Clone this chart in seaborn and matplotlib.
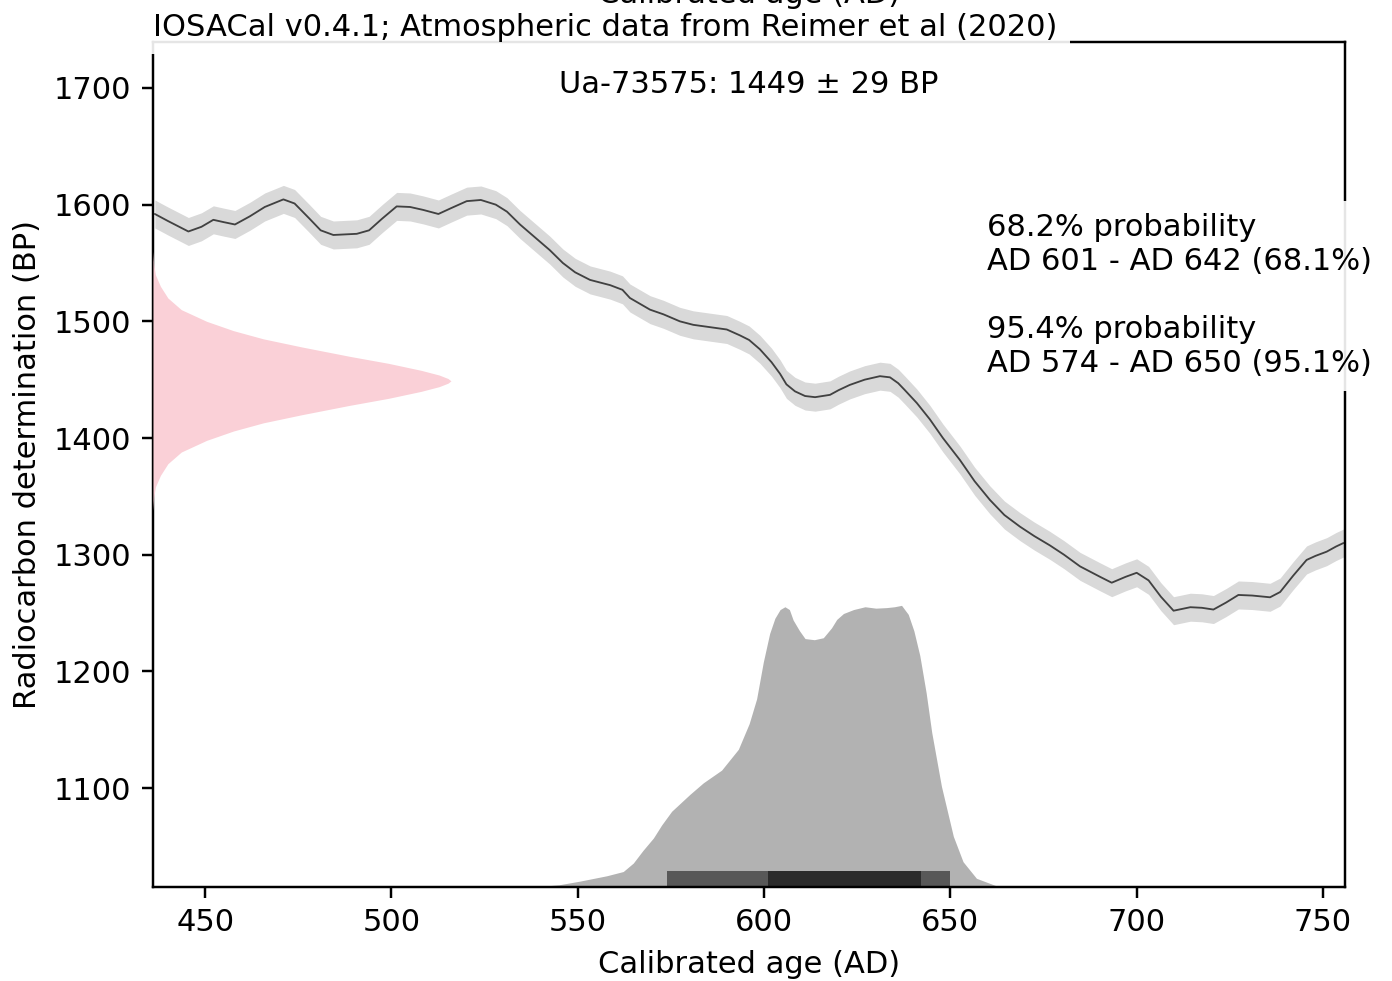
import numpy as np
import pandas as pd
import seaborn as sns
import matplotlib.pyplot as plt

# calibration curve (IntCal20 segment)
curve_year = [436.5, 440, 445.5, 449, 452.2, 455, 458, 462, 466, 471, 474, 478, 481, 484.4,
              490.7, 494, 497.5, 501.4, 505, 508.5, 512.6, 516, 520.2, 524, 528, 531, 534.5,
              538.5, 542.5, 546, 549.3, 553.3, 558.7, 562, 564, 569.4, 573, 577.4, 581, 585.5,
              590, 593.5, 596, 598.9, 602, 604.3, 606, 608.3, 611, 613.7, 617.7, 620, 623, 627,
              631.1, 633.8, 636, 637.8, 641, 644.5, 648, 652.6, 656.5, 660.6, 664.5, 668.7,
              672.5, 676.7, 680.5, 684.8, 690.2, 693.3, 697, 700, 703.2, 706.5, 709.9, 714.4,
              717.5, 720.6, 724, 727.3, 731, 735.8, 738.5, 742, 745.6, 748, 751, 753.5, 755.5]
curve_bp = [1592, 1586, 1577, 1581, 1587, 1585, 1583, 1590, 1598, 1604.5, 1601, 1588, 1578, 1574,
            1575, 1578, 1588, 1598.5, 1598, 1595.5, 1592, 1597, 1603, 1604, 1600, 1594, 1583,
            1572, 1561, 1550, 1542, 1535.5, 1531, 1527, 1520, 1510, 1506, 1500, 1497, 1495,
            1493, 1488, 1484, 1476, 1465, 1455, 1446, 1440, 1436, 1435, 1437, 1441, 1445.5, 1450,
            1453, 1452, 1447, 1441, 1430, 1416, 1400, 1381, 1363, 1347, 1334, 1324,
            1316, 1308, 1300, 1290, 1281, 1276, 1281, 1284.5, 1278, 1264, 1252, 1255,
            1254.5, 1253, 1259, 1265.5, 1265, 1263.5, 1268, 1282, 1295.5, 1299, 1302.6, 1307, 1310]
curve_err = 12

# calibrated age probability (relative to its peak)
cal_year = [538, 545, 550.6, 557.8, 562.2, 564.9, 567.5, 570.3, 572.5, 575.2, 580.1, 583.7, 588.6,
            593.1, 596, 598.0, 599.8, 601.5, 602.9, 604.3, 605.6, 606.8, 607.8, 609.5, 611.0,
            613.5, 615.9, 618.1, 619.5, 621.3, 624, 627.1, 630, 632.9, 635, 636.9, 638.7, 640.2,
            641.8, 643.5, 645.0, 647.6, 650.8, 653.4, 657.0, 662.4, 666]
cal_prob = [0, 0.008, 0.021, 0.040, 0.055, 0.085, 0.13, 0.174, 0.22, 0.269, 0.329, 0.370, 0.415,
            0.489, 0.58, 0.668, 0.799, 0.90, 0.954, 0.985, 0.995, 0.985, 0.948, 0.91, 0.882,
            0.878, 0.885, 0.920, 0.95, 0.971, 0.985, 0.995, 0.99, 0.992, 0.995, 1.0, 0.968, 0.91,
            0.822, 0.69, 0.549, 0.358, 0.180, 0.090, 0.031, 0.004, 0]

# radiocarbon determination (relative width of the pink shape)
sample_bp = [1560, 1550, 1540, 1530, 1520, 1510, 1500, 1492, 1485, 1478, 1470, 1464, 1458,
             1454, 1451, 1449, 1447, 1444, 1440, 1434, 1428, 1420, 1413, 1406, 1398, 1388,
             1378, 1368, 1358, 1348, 1338]
sample_w = [0.0, 0.002, 0.008, 0.025, 0.05, 0.095, 0.18, 0.27, 0.37, 0.50, 0.66, 0.79, 0.9,
            0.96, 0.99, 1.0, 0.99, 0.96, 0.9, 0.79, 0.66, 0.50, 0.37, 0.27, 0.18, 0.095,
            0.05, 0.025, 0.008, 0.002, 0.0]

ranges_95 = [(574, 650)]
ranges_68 = [(601, 642)]

label = "Ua-73575: 1449 ± 29 BP"
interval_text = ("68.2% probability\nAD 601 - AD 642 (68.1%)\n\n"
                 "95.4% probability\nAD 574 - AD 650 (95.1%)")
title = "IOSACal v0.4.1; Atmospheric data from Reimer et al (2020)"

sns.set_style("ticks", rc={"axes.edgecolor": "black", "xtick.color": "black",
                           "ytick.color": "black", "text.color": "black",
                           "axes.labelcolor": "black"})
plt.rcParams["font.family"] = ["DejaVu Sans"]
plt.rcParams["font.size"] = 10

fig = plt.figure(figsize=(1392 / 220, 981 / 220), dpi=220)
ax1 = fig.add_axes([0.1099, 0.0958, 0.8563, 0.8614])

# calibration curve
cc = pd.DataFrame({"year": curve_year, "bp": curve_bp})
ax1.fill_between(cc["year"], cc["bp"] + curve_err, cc["bp"] - curve_err,
                 color="k", alpha=0.15, lw=0)
sns.lineplot(data=cc, x="year", y="bp", ax=ax1, color="k", alpha=0.7, lw=0.6)
ax1.set_xlim(436, 755.9)
ax1.set_ylim(1015.2, 1739.4)
ax1.set_xlabel("Calibrated age (AD)")
ax1.set_ylabel("Radiocarbon determination (BP)")

ax1.text(0.5, 0.95, label, ha="center", va="center", transform=ax1.transAxes,
         bbox=dict(facecolor="white", alpha=0.9, lw=0))
ax1.text(0.0, 1.0, title, ha="left", va="bottom", transform=ax1.transAxes,
         bbox=dict(facecolor="white", alpha=0.9, lw=0))
ax1.text(0.5, 1.0465, "Calibrated age (AD)", ha="center", va="baseline",
         transform=ax1.transAxes)
ax1.text(0.70, 0.7975, interval_text, ha="left", va="top", transform=ax1.transAxes,
         linespacing=1.22, bbox=dict(facecolor="white", alpha=0.9, lw=0))

# calibrated distribution
ax2 = ax1.twinx()
ax2.fill_between(cal_year, 0, cal_prob, color="k", alpha=0.3, lw=0)
for a, b in ranges_95:
    ax2.axvspan(a, b, ymin=0, ymax=0.019, color="k", alpha=0.5, lw=0)
for a, b in ranges_68:
    ax2.axvspan(a, b, ymin=0, ymax=0.019, color="k", alpha=0.5, lw=0)
ax2.set_ylim(0, max(cal_prob) * 3)
ax2.set_axis_off()

# radiocarbon sample
ax3 = ax1.twiny()
ax3.fill_betweenx(sample_bp, 0, sample_w, color="#fad0d7", lw=0)
ax3.set_xlim(0, max(sample_w) * 4)
ax3.set_axis_off()

fig.savefig("out.png", dpi=220)
